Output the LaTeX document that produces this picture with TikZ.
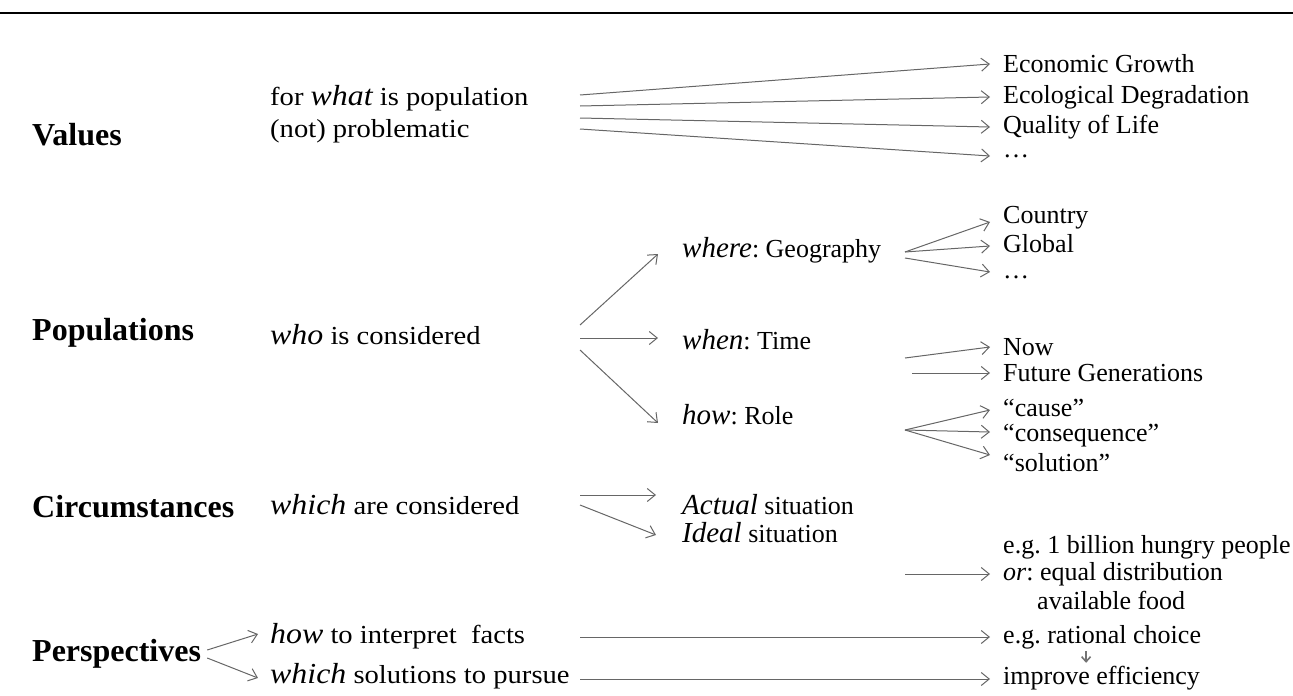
\documentclass[tikz,border=0pt]{standalone}
\usepackage{fontspec}
\setmainfont{Liberation Serif}
\newfontfamily\widefont{Liberation Serif}[FakeStretch=1.1]
\usetikzlibrary{arrows.meta, positioning}
\tikzset{
	head/.style ={anchor=west, inner sep=0pt, font=\fontsize{32}{36}\selectfont\bfseries},
	item/.style ={anchor=west, inner sep=0pt, font=\fontsize{26}{32}\selectfont},
	wide/.style ={item, font=\fontsize{26}{32}\selectfont\widefont},
	conn/.style ={draw=black!60, line width=1pt, -{Straight Barb[length=8pt, width=13pt]}},
	down/.style ={draw=black!55, line width=1.6pt, -{Straight Barb[length=5pt, width=9pt]}},
}
\newcommand{\kw}[1]{{\fontsize{29}{32}\selectfont\itshape #1}}
\frenchspacing

\begin{document}
\begin{tikzpicture}[x=1pt, y=-1pt]
	\useasboundingbox (0,0) rectangle (1293,696);
	\draw[line width=2.5pt] (0,13) -- (1293,13);
	% values
	\node[head] (values) at (32,135) {Values};
	\node[wide, align=left] (whatq) at (270,114) {for \kw{what} is population\\(not) problematic};
	\node[item] (econ) at (1003,64) {Economic Growth};
	\node[item] (ecol) at (1003,97) {Ecological Degradation};
	\node[item] (qual) at (1003,127) {Quality of Life};
	\node[item] (vmore) at (1003,156) {…};
	\foreach \n/\y in {econ/95, ecol/106, qual/118, vmore/129}{
		\coordinate (v-\n) at (580,\y);
		\draw[conn] (v-\n) -- ([xshift=-13pt]\n.west);
	}
	% populations
	\node[head] (pops) at (32,333) {Populations};
	\node[wide] (whoq) at (270,335) {\kw{who} is considered};
	\node[item] (where) at (682,250) {\kw{where}: Geography};
	\node[item] (when) at (682,340) {\kw{when}: Time};
	\node[item] (how) at (682,415) {\kw{how}: Role};
	\coordinate (p1) at (580,325);
	\coordinate (p2) at (580,338);
	\coordinate (p3) at (580,350);
	\draw[conn] (p1) -- ([xshift=-24pt, yshift=-4pt]where.west);
	\draw[conn] (p2) -- ([xshift=-24pt, yshift=2pt]when.west);
	\draw[conn] (p3) -- ([xshift=-24pt, yshift=-8pt]how.west);
	% geography
	\node[item] (country) at (1003,218) {Country};
	\node[item] (global) at (1003,244) {Global};
	\node[item] (gmore) at (1003,277) {…};
	\coordinate (g1) at (905,252);
	\coordinate (g2) at (905,258);
	\draw[conn] (g1) -- ([xshift=-13pt, yshift=-4pt]country.west);
	\draw[conn] (g1) -- ([xshift=-13pt, yshift=-2pt]global.west);
	\draw[conn] (g2) -- ([xshift=-13pt, yshift=5pt]gmore.west);
	% time
	\node[item] (now) at (1003,347) {Now};
	\node[item] (future) at (1003,373) {Future Generations};
	\coordinate (t1) at (905,358);
	\coordinate (t2) at (912,373);
	\draw[conn] (t1) -- ([xshift=-13pt]now.west);
	\draw[conn] (t2) -- ([xshift=-13pt]future.west);
	% role
	\node[item] (cause) at (1003,408) {“cause”};
	\node[item] (conseq) at (1003,436) {“consequence”};
	\node[item] (solut) at (1003,463) {“solution”};
	\coordinate (r1) at (905,430);
	\draw[conn] (r1) -- ([xshift=-13pt, yshift=-2pt]cause.west);
	\draw[conn] (r1) -- ([xshift=-13pt, yshift=4pt]conseq.west);
	\draw[conn] (r1) -- ([xshift=-13pt, yshift=8pt]solut.west);
	% circumstances
	\node[head] (circ) at (32,507) {Circumstances};
	\node[wide] (whichq) at (270,505) {\kw{which} are considered};
	\node[item] (actual) at (682,505) {\kw{Actual} situation};
	\node[item] (ideal) at (682,533) {\kw{Ideal} situation};
	\coordinate (c1) at (580,495);
	\coordinate (c2) at (580,505);
	\draw[conn] (c1) -- ([xshift=-26pt, yshift=10pt]actual.west);
	\draw[conn] (c2) -- ([xshift=-26pt, yshift=-2pt]ideal.west);
	\node[item] (hungry) at (1003,547) {e.g. 1 billion hungry people};
	\node[item] (equal) at (1003,574) {\textit{or}: equal distribution};
	\node[item] (food) at (1037,600) {available food};
	\coordinate (e1) at (905,574);
	\draw[conn] (e1) -- ([xshift=-13pt]equal.west);
	% perspectives
	\node[head] (persp) at (32,654) {Perspectives};
	\node[wide] (facts) at (270,636) {\kw{how} to interpret\ \ facts};
	\node[wide] (pursue) at (270,676) {\kw{which} solutions to pursue};
	\draw[conn] ([xshift=6pt, yshift=4pt]persp.east) -- ([xshift=-12pt, yshift=2pt]facts.west);
	\draw[conn] ([xshift=6pt, yshift=-4pt]persp.east) -- ([xshift=-12pt, yshift=-2pt]pursue.west);
	\node[item] (rational) at (1003,637) {e.g. rational choice};
	\node[item] (improve) at (1003,678) {improve efficiency};
	\coordinate (f1) at (580,637);
	\coordinate (f2) at (580,679);
	\draw[conn] (f1) -- ([xshift=-13pt]rational.west);
	\draw[conn] (f2) -- ([xshift=-13pt, yshift=-1pt]improve.west);
	\draw[down] ([xshift=-16pt, yshift=-2pt]rational.south) -- ([xshift=-16pt, yshift=3pt]rational.south |- improve.north);
\end{tikzpicture}
\end{document}
